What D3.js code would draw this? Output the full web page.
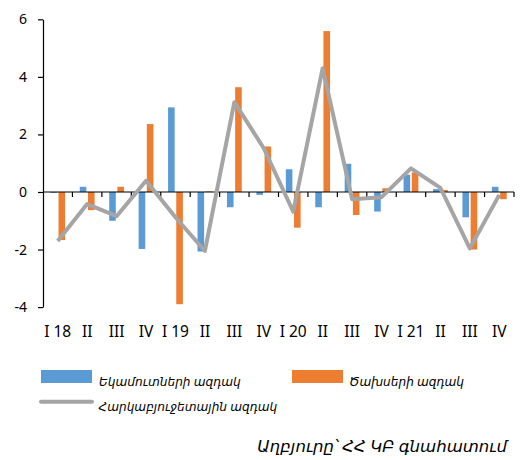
<!DOCTYPE html>
<html><head><meta charset="utf-8">
<script src="https://cdn.jsdelivr.net/npm/d3@7"></script>
<style>
html,body{margin:0;padding:0;background:#fff;}
svg{display:block;}
</style></head>
<body>
<svg id="chart" width="525" height="460"></svg>
<script>
const categories = ["I 18","II","III","IV","I 19","II","III","IV","I 20","II","III","IV","I 21","II","III","IV"];
const incomeImpulse = [-0.03, 0.18, -1.0, -1.98, 2.94, -2.07, -0.53, -0.1, 0.79, -0.53, 0.98, -0.68, 0.6, 0.1, -0.88, 0.18];
const spendingImpulse = [-1.67, -0.63, 0.18, 2.36, -3.9, 0.02, 3.64, 1.58, -1.24, 5.59, -0.8, 0.13, 0.68, 0.07, -2.0, -0.25];
const fiscalImpulse = [-1.7, -0.42, -0.84, 0.39, -0.88, -2.05, 3.12, 1.52, -0.68, 4.3, -0.25, -0.18, 0.82, 0.14, -1.96, -0.1];
const yTicks = [-4, -2, 0, 2, 4, 6];
const seriesNames = ["Եկամուտների ազդակ", "Ծախսերի ազդակ", "Հարկաբյուջետային ազդակ"];
const sourceText = "Աղբյուրը՝ ՀՀ ԿԲ գնահատում";

const colors = {income:"#5B9BD5", spending:"#ED7D31", fiscal:"#A5A5A5"};
const svg = d3.select("#chart");
const mLeft = 43, mRight = 514, mTop = 19.3, mBottom = 307.1;
const idx = categories.map((d,i)=>i);

const x = d3.scaleBand().domain(idx).range([mLeft, mRight]).padding(0);
const x1 = d3.scaleBand().domain(["income","spending"]).range([0, x.bandwidth()]).paddingInner(0.195).paddingOuter(0.893);
const y = d3.scaleLinear().domain([-4, 6]).range([mBottom, mTop]);

const font = "'Noto Sans', 'DejaVu Sans', sans-serif";

// fit a text element's font size so its width matches a target
function fitWidth(sel, target, base) {
  sel.attr("font-size", base);
  const w = sel.node().getComputedTextLength();
  if (w > 0) sel.attr("font-size", base * target / w);
}

// bars
const bars = svg.append("g");
[["income", incomeImpulse], ["spending", spendingImpulse]].forEach(([key, vals]) => {
  bars.selectAll(null).data(vals).enter().append("rect")
    .attr("x", (d,i)=>x(i)+x1(key))
    .attr("width", x1.bandwidth())
    .attr("y", d=>y(Math.max(0,d)))
    .attr("height", d=>Math.abs(y(d)-y(0)))
    .attr("fill", colors[key]);
});

// y axis
const yAxis = svg.append("g").attr("transform", `translate(${mLeft},0)`)
  .call(d3.axisLeft(y).tickValues(yTicks).tickSize(5).tickSizeOuter(0).tickFormat(d=>String(d)));
yAxis.select(".domain").attr("stroke","#000").attr("stroke-width",1.2);
yAxis.selectAll(".tick line").attr("stroke","#000").attr("stroke-width",1.2);
yAxis.selectAll(".tick text").attr("font-family",font).attr("font-size",14).attr("fill","#000").attr("x",-16);

// x axis at zero
const xAxisG = svg.append("g").attr("transform", `translate(0,${y(0)})`);
xAxisG.append("line").attr("x1",mLeft).attr("x2",mRight).attr("stroke","#000").attr("stroke-width",1.2);
xAxisG.selectAll(null).data(idx).enter().append("line")
  .attr("x1", i=>x(i)+x.bandwidth()).attr("x2", i=>x(i)+x.bandwidth())
  .attr("y1",0).attr("y2",5).attr("stroke","#000").attr("stroke-width",1.2);

svg.append("g").selectAll(null).data(categories).enter().append("text")
  .attr("x",(d,i)=>x(i)+x.bandwidth()/2).attr("y",336.5)
  .attr("text-anchor","middle").attr("font-family",font).attr("font-size",15.5).attr("fill","#000")
  .text(d=>d);

// line
const line = d3.line().x((d,i)=>x(i)+x.bandwidth()/2).y(d=>y(d));
svg.append("path").datum(fiscalImpulse).attr("d", line)
  .attr("fill","none").attr("stroke",colors.fiscal).attr("stroke-width",4).attr("stroke-linejoin","round");

// legend
const lg = svg.append("g");
lg.append("rect").attr("x",41).attr("y",370).attr("width",51).attr("height",13).attr("fill",colors.income);
const t1 = lg.append("text").attr("x",99).attr("y",386).text(seriesNames[0]);
lg.append("rect").attr("x",292).attr("y",370).attr("width",51).attr("height",13).attr("fill",colors.spending);
const t2 = lg.append("text").attr("x",349).attr("y",386).text(seriesNames[1]);
lg.append("line").attr("x1",41).attr("x2",92).attr("y1",401.7).attr("y2",401.7)
  .attr("stroke",colors.fiscal).attr("stroke-width",4).attr("stroke-linecap","round");
const t3 = lg.append("text").attr("x",98.5).attr("y",411).text(seriesNames[2]);
lg.selectAll("text").attr("font-family",font).attr("font-style","italic").attr("fill","#000");
fitWidth(t1, 142, 14);
fitWidth(t2, 115, 14);
fitWidth(t3, 179, 14);

const src = svg.append("text").attr("x",507).attr("y",452).attr("text-anchor","end")
  .attr("font-family",font).attr("font-style","italic").attr("fill","#000")
  .text(sourceText);
fitWidth(src, 250, 17);
</script>
</body></html>
